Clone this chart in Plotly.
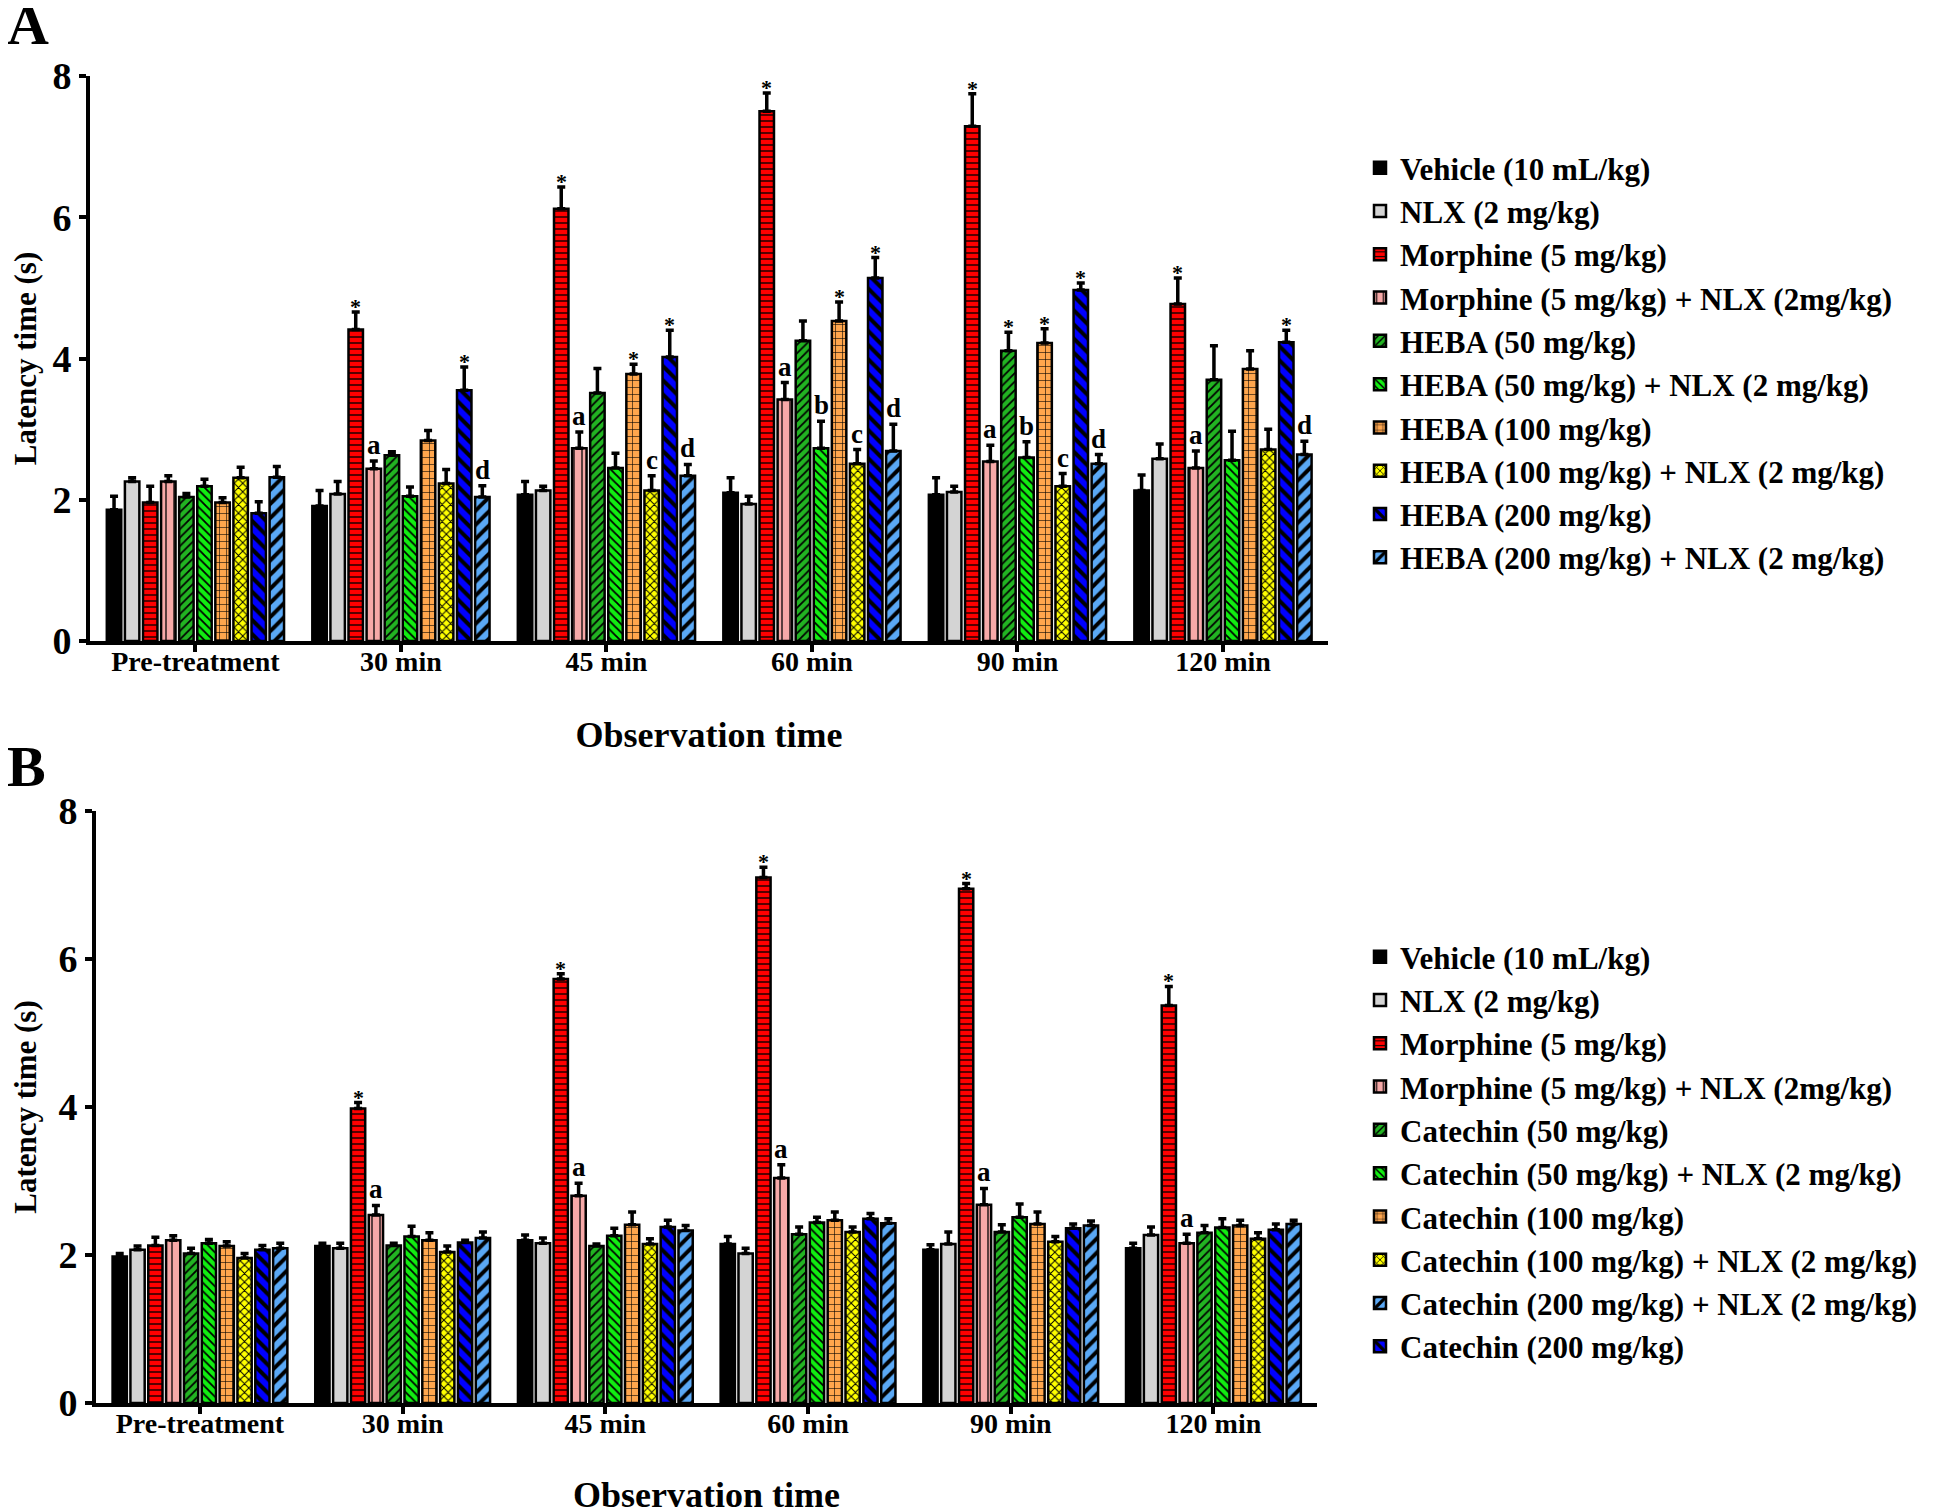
import plotly.graph_objects as go

# ---------------- data ----------------
categories = ["Pre-treatment", "30 min", "45 min", "60 min", "90 min", "120 min"]

names_A = ["Vehicle (10 mL/kg)", "NLX (2 mg/kg)", "Morphine (5 mg/kg)",
           "Morphine (5 mg/kg) + NLX (2mg/kg)", "HEBA (50 mg/kg)",
           "HEBA (50 mg/kg) + NLX (2 mg/kg)", "HEBA (100 mg/kg)",
           "HEBA (100 mg/kg) + NLX (2 mg/kg)", "HEBA (200 mg/kg)",
           "HEBA (200 mg/kg) + NLX (2 mg/kg)"]
names_B = ["Vehicle (10 mL/kg)", "NLX (2 mg/kg)", "Morphine (5 mg/kg)",
           "Morphine (5 mg/kg) + NLX (2mg/kg)", "Catechin (50 mg/kg)",
           "Catechin (50 mg/kg) + NLX (2 mg/kg)", "Catechin (100 mg/kg)",
           "Catechin (100 mg/kg) + NLX (2 mg/kg)", "Catechin (200 mg/kg)",
           "Catechin (200 mg/kg) + NLX (2 mg/kg)"]

# Panel A means / SEM
A_vehicle = [1.86, 1.91, 2.07, 2.10, 2.07, 2.13]
A_vehicle_err = [0.19, 0.22, 0.19, 0.21, 0.24, 0.22]
A_nlx = [2.26, 2.08, 2.13, 1.94, 2.11, 2.58]
A_nlx_err = [0.05, 0.18, 0.06, 0.11, 0.08, 0.21]
A_morph = [1.96, 4.41, 6.12, 7.50, 7.29, 4.77]
A_morph_err = [0.23, 0.25, 0.31, 0.26, 0.46, 0.37]
A_morph_nlx = [2.26, 2.44, 2.73, 3.42, 2.54, 2.45]
A_morph_nlx_err = [0.08, 0.11, 0.23, 0.24, 0.23, 0.24]
A_h50 = [2.04, 2.63, 3.51, 4.25, 4.11, 3.70]
A_h50_err = [0.05, 0.05, 0.35, 0.28, 0.26, 0.48]
A_h50_nlx = [2.19, 2.05, 2.45, 2.73, 2.60, 2.56]
A_h50_nlx_err = [0.10, 0.13, 0.21, 0.38, 0.22, 0.41]
A_h100 = [1.96, 2.84, 3.78, 4.53, 4.22, 3.85]
A_h100_err = [0.07, 0.14, 0.14, 0.27, 0.20, 0.26]
A_h100_nlx = [2.31, 2.23, 2.13, 2.51, 2.19, 2.71]
A_h100_nlx_err = [0.15, 0.20, 0.21, 0.20, 0.18, 0.29]
A_h200 = [1.81, 3.55, 4.02, 5.14, 4.97, 4.23]
A_h200_err = [0.16, 0.33, 0.38, 0.29, 0.10, 0.17]
A_h200_nlx = [2.32, 2.04, 2.34, 2.69, 2.51, 2.64]
A_h200_nlx_err = [0.15, 0.16, 0.16, 0.38, 0.13, 0.19]

# Panel B means / SEM
B_vehicle = [1.98, 2.12, 2.20, 2.15, 2.07, 2.09]
B_vehicle_err = [0.04, 0.04, 0.07, 0.10, 0.07, 0.07]
B_nlx = [2.07, 2.09, 2.16, 2.02, 2.15, 2.27]
B_nlx_err = [0.05, 0.07, 0.07, 0.07, 0.16, 0.11]
B_morph = [2.13, 3.98, 5.73, 7.10, 6.95, 5.37]
B_morph_err = [0.11, 0.08, 0.07, 0.14, 0.07, 0.26]
B_morph_nlx = [2.20, 2.54, 2.80, 3.04, 2.68, 2.16]
B_morph_nlx_err = [0.06, 0.13, 0.17, 0.18, 0.22, 0.12]
B_c50 = [2.02, 2.13, 2.12, 2.28, 2.31, 2.30]
B_c50_err = [0.07, 0.03, 0.03, 0.10, 0.10, 0.10]
B_c50_nlx = [2.16, 2.25, 2.26, 2.44, 2.51, 2.37]
B_c50_nlx_err = [0.05, 0.14, 0.10, 0.07, 0.18, 0.12]
B_c100 = [2.12, 2.20, 2.41, 2.47, 2.42, 2.40]
B_c100_err = [0.06, 0.10, 0.17, 0.11, 0.16, 0.07]
B_c100_nlx = [1.96, 2.04, 2.15, 2.31, 2.18, 2.22]
B_c100_nlx_err = [0.06, 0.08, 0.07, 0.07, 0.07, 0.08]
B_c200 = [2.07, 2.17, 2.38, 2.49, 2.36, 2.34]
B_c200_err = [0.06, 0.03, 0.09, 0.07, 0.06, 0.08]
B_c200_nlx = [2.09, 2.23, 2.33, 2.43, 2.40, 2.42]
B_c200_nlx_err = [0.07, 0.08, 0.07, 0.06, 0.06, 0.05]

# significance marks
no_sig = ["", "", "", "", "", ""]
sig_morph = ["", "*", "*", "*", "*", "*"]
sig_morph_nlx = ["", "a", "a", "a", "a", "a"]
sig_A_h50 = ["", "", "", "", "*", ""]
sig_A_h50_nlx = ["", "", "", "b", "b", ""]
sig_A_h100 = ["", "", "*", "*", "*", ""]
sig_A_h100_nlx = ["", "", "c", "c", "c", ""]
sig_A_h200 = ["", "*", "*", "*", "*", "*"]
sig_A_h200_nlx = ["", "d", "d", "d", "d", "d"]

means_A = [A_vehicle, A_nlx, A_morph, A_morph_nlx, A_h50, A_h50_nlx, A_h100, A_h100_nlx, A_h200, A_h200_nlx]
errs_A = [A_vehicle_err, A_nlx_err, A_morph_err, A_morph_nlx_err, A_h50_err, A_h50_nlx_err,
          A_h100_err, A_h100_nlx_err, A_h200_err, A_h200_nlx_err]
sigs_A = [no_sig, no_sig, sig_morph, sig_morph_nlx, sig_A_h50, sig_A_h50_nlx, sig_A_h100,
          sig_A_h100_nlx, sig_A_h200, sig_A_h200_nlx]
means_B = [B_vehicle, B_nlx, B_morph, B_morph_nlx, B_c50, B_c50_nlx, B_c100, B_c100_nlx, B_c200, B_c200_nlx]
errs_B = [B_vehicle_err, B_nlx_err, B_morph_err, B_morph_nlx_err, B_c50_err, B_c50_nlx_err,
          B_c100_err, B_c100_nlx_err, B_c200_err, B_c200_nlx_err]
sigs_B = [no_sig, no_sig, sig_morph, sig_morph_nlx] + [no_sig] * 6
ranks_A = [1, 2, 3, 4, 5, 6, 7, 8, 9, 10]
ranks_B = [1, 2, 3, 4, 5, 6, 7, 8, 10, 9]

# ---------------- styles ----------------
styles = [
    ("#000000", "", 8, 0.3),
    ("#d4d4d4", "", 8, 0.3),
    ("#ff0000", "-", 6, 0.22),
    ("#f7a9a8", "|", 8, 0.16),
    ("#22b422", "/", 6, 0.3),
    ("#11ee11", "\\", 6, 0.3),
    ("#ffa64d", "+", 7, 0.16),
    ("#ffff00", "x", 6, 0.3),
    ("#0000ff", "\\", 10, 0.4),
    ("#5aa8f5", "/", 10, 0.4),
]

W, H = 1946, 1510
BARGAP = 0.12
FONT = "Liberation Serif, Times New Roman, serif"

fig = go.Figure()


def add_panel(names, means, errs, sigs, ranks, xa, ya, legend):
    slot = (1 - BARGAP) / 10
    for j in range(10):
        color, shape, size, sol = styles[j]
        fig.add_trace(go.Bar(
            x=categories, y=means[j], name=names[j], xaxis=xa, yaxis=ya,
            legend=legend, legendrank=ranks[j],
            marker=dict(color=color, line=dict(color="black", width=2.5),
                        pattern=dict(shape=shape, fgcolor="black", bgcolor=color,
                                     size=size, solidity=sol, fillmode="replace")),
            error_y=dict(type="data", symmetric=False, array=errs[j],
                         arrayminus=[0] * len(errs[j]), color="black",
                         thickness=3.5, width=4),
        ))
        for i in range(len(categories)):
            s = sigs[j][i]
            if s:
                fig.add_annotation(
                    x=i + (j - 4.5) * slot, y=means[j][i] + errs[j][i],
                    xref=xa, yref=ya, text=s, showarrow=False,
                    yanchor="bottom", yshift=(-9 if s == "*" else -1),
                    font=dict(size=(22 if s == "*" else 27), family=FONT,
                              color="black", weight="bold"))


add_panel(names_A, means_A, errs_A, sigs_A, ranks_A, "x", "y", "legend")
add_panel(names_B, means_B, errs_B, sigs_B, ranks_B, "x2", "y2", "legend2")


def xaxis_style(domain, anchor, standoff):
    return dict(domain=domain, anchor=anchor, type="category",
                range=[-0.513, 5.511], showline=True, linecolor="black",
                linewidth=4, ticks="outside", ticklen=7, tickwidth=4,
                tickcolor="black", showgrid=False, zeroline=False,
                ticklabelstandoff=-15,
                tickfont=dict(size=28, family=FONT, color="black", weight="bold"),
                title=dict(text="Observation time", standoff=standoff,
                           font=dict(size=36, family=FONT, color="black", weight="bold")))


def yaxis_style(domain, anchor):
    return dict(domain=domain, anchor=anchor, range=[0, 8],
                tickvals=[0, 2, 4, 6, 8], showline=True, linecolor="black",
                linewidth=4, ticks="outside", ticklen=7, tickwidth=4,
                tickcolor="black", showgrid=False, zeroline=False,
                tickfont=dict(size=38, family=FONT, color="black", weight="bold"),
                title=dict(text="Latency time (s)", standoff=29,
                           font=dict(size=31, family=FONT, color="black", weight="bold")))


legend_common = dict(xanchor="left", yanchor="top", bgcolor="rgba(0,0,0,0)",
                     font=dict(size=31, family=FONT, color="black", weight="bold"),
                     traceorder="normal")

fig.update_layout(
    width=W, height=H,
    margin=dict(l=0, r=0, t=0, b=0, autoexpand=False),
    paper_bgcolor="white", plot_bgcolor="white",
    font=dict(family=FONT, color="black", weight="bold"),
    barmode="group", bargap=BARGAP, bargroupgap=0.2,
    xaxis=xaxis_style([82 / W, 1320 / W], "y", 47),
    yaxis=yaxis_style([1 - 633 / H, 1 - 68 / H], "x"),
    xaxis2=xaxis_style([88 / W, 1309 / W], "y2", 45),
    yaxis2=yaxis_style([1 - 1395 / H, 1 - 803 / H], "x2"),
    legend=dict(x=1352 / W, y=1 - 133 / H, **legend_common),
    legend2=dict(x=1352 / W, y=1 - 922 / H, **legend_common),
    showlegend=True,
)

for letter, ypx in (("A", 0), ("B", 739)):
    fig.add_annotation(x=0, y=1 - ypx / H, xref="paper", yref="paper",
                       text=letter, showarrow=False, xanchor="left", yanchor="top",
                       xshift=-3, yshift=(18 if letter == "A" else 15),
                       font=dict(size=58, family=FONT, color="black", weight="bold"))

fig.write_html("out.html")
